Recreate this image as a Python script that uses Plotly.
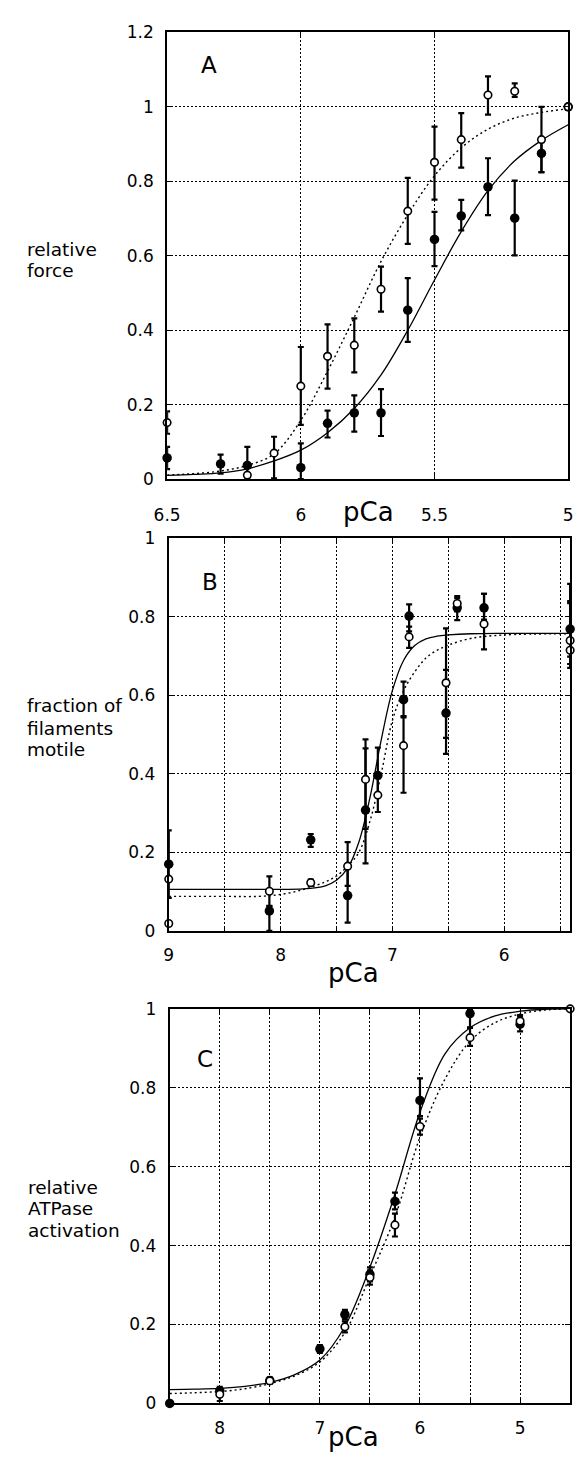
import plotly.graph_objects as go

W, H = 579, 1463
FONT = "DejaVu Sans"

# ---------------- Panel A: relative force ----------------
a_open_pca = [6.5, 6.2, 6.1, 6.0, 5.9, 5.8, 5.7, 5.6, 5.5, 5.4, 5.3, 5.2, 5.1, 5.0]
a_open_val = [0.152, 0.011, 0.07, 0.25, 0.33, 0.36, 0.51, 0.72, 0.851, 0.912, 1.032, 1.042, 0.912, 1.0]
a_open_errp = [0.03, 0.0, 0.044, 0.105, 0.086, 0.072, 0.061, 0.089, 0.096, 0.071, 0.05, 0.021, 0.088, 0.0]
a_open_errm = [0.03, 0.0, 0.068, 0.104, 0.087, 0.073, 0.06, 0.088, 0.1, 0.075, 0.053, 0.015, 0.088, 0.0]

a_fill_pca = [6.5, 6.3, 6.2, 6.0, 5.9, 5.8, 5.7, 5.6, 5.5, 5.4, 5.3, 5.2, 5.1, 5.0]
a_fill_val = [0.057, 0.041, 0.037, 0.031, 0.15, 0.178, 0.178, 0.454, 0.644, 0.707, 0.785, 0.701, 0.875, 1.0]
a_fill_errp = [0.03, 0.025, 0.05, 0.065, 0.034, 0.047, 0.064, 0.086, 0.074, 0.043, 0.077, 0.101, 0.03, 0.0]
a_fill_errm = [0.03, 0.026, 0.037, 0.031, 0.038, 0.05, 0.062, 0.085, 0.072, 0.039, 0.076, 0.1, 0.05, 0.0]

a_fit_pca = [6.5, 6.4, 6.3, 6.2, 6.1, 6.0, 5.9, 5.8, 5.7, 5.6, 5.5, 5.4, 5.3, 5.2, 5.1, 5.0]
a_fit_solid = [0.010, 0.013, 0.017, 0.028, 0.049, 0.078, 0.125, 0.19, 0.28, 0.40, 0.535, 0.665, 0.775, 0.855, 0.91, 0.952]
a_fit_dotted = [0.011, 0.015, 0.022, 0.037, 0.068, 0.158, 0.29, 0.435, 0.585, 0.71, 0.815, 0.89, 0.94, 0.97, 0.985, 0.995]

a_xticks = [6.5, 6.0, 5.5, 5.0]
a_xtext = ["6.5", "6", "5.5", "5"]
a_yticks = [0, 0.2, 0.4, 0.6, 0.8, 1.0, 1.2]
a_ytext = ["0", "0.2", "0.4", "0.6", "0.8", "1", "1.2"]

# ---------------- Panel B: fraction of filaments motile ----------------
b_fill_pca = [9.0, 8.1, 7.73, 7.4, 7.24, 7.13, 6.9, 6.85, 6.52, 6.42, 6.18, 5.41]
b_fill_val = [0.17, 0.051, 0.232, 0.09, 0.308, 0.396, 0.589, 0.802, 0.555, 0.823, 0.823, 0.769]
b_fill_errp = [0.086, 0.013, 0.015, 0.08, 0.157, 0.071, 0.046, 0.03, 0.11, 0.025, 0.036, 0.115]
b_fill_errm = [0.086, 0.051, 0.018, 0.069, 0.136, 0.05, 0.045, 0.039, 0.104, 0.031, 0.03, 0.07]

b_open_pca = [9.0, 9.0, 8.1, 7.73, 7.4, 7.24, 7.13, 6.9, 6.85, 6.52, 6.42, 6.18, 5.41, 5.41]
b_open_val = [0.132, 0.019, 0.101, 0.123, 0.165, 0.386, 0.346, 0.472, 0.749, 0.632, 0.834, 0.782, 0.74, 0.715]
b_open_errp = [0.0, 0.0, 0.038, 0.008, 0.061, 0.102, 0.05, 0.075, 0.026, 0.139, 0.019, 0.077, 0.1, 0.12]
b_open_errm = [0.0, 0.0, 0.038, 0.008, 0.05, 0.126, 0.043, 0.12, 0.028, 0.14, 0.02, 0.065, 0.06, 0.045]

b_fit_pca = [9.0, 8.5, 8.2, 8.0, 7.8, 7.6, 7.5, 7.4, 7.3, 7.2, 7.1, 7.0, 6.9, 6.8, 6.7, 6.6, 6.5, 6.3, 6.0, 5.41]
b_fit_solid = [0.106, 0.106, 0.106, 0.106, 0.107, 0.115, 0.129, 0.16, 0.226, 0.34, 0.486, 0.612, 0.689, 0.727, 0.744, 0.751, 0.754, 0.757, 0.758, 0.758]
b_fit_dotted = [0.088, 0.088, 0.088, 0.093, 0.105, 0.125, 0.14, 0.165, 0.2, 0.28, 0.40, 0.536, 0.612, 0.66, 0.695, 0.715, 0.728, 0.745, 0.754, 0.757]

b_xticks = [9.0, 8.5, 8.0, 7.5, 7.0, 6.5, 6.0, 5.5]
b_xtext = ["9", "", "8", "", "7", "", "6", ""]
b_yticks = [0, 0.2, 0.4, 0.6, 0.8, 1.0]
b_ytext = ["0", "0.2", "0.4", "0.6", "0.8", "1"]

# ---------------- Panel C: relative ATPase activation ----------------
c_fill_pca = [8.5, 8.0, 7.5, 7.0, 6.75, 6.5, 6.25, 6.0, 5.5, 5.0]
c_fill_val = [0.0, 0.032, 0.058, 0.138, 0.225, 0.327, 0.512, 0.768, 0.988, 0.961]
c_fill_errp = [0.0, 0.01, 0.008, 0.01, 0.012, 0.018, 0.022, 0.056, 0.012, 0.02]
c_fill_errm = [0.0, 0.01, 0.008, 0.01, 0.012, 0.018, 0.02, 0.04, 0.035, 0.018]

c_open_pca = [8.0, 7.5, 6.75, 6.5, 6.25, 6.0, 5.5, 5.0, 4.5]
c_open_val = [0.023, 0.057, 0.194, 0.319, 0.452, 0.702, 0.927, 0.969, 1.0]
c_open_errp = [0.012, 0.006, 0.014, 0.018, 0.029, 0.02, 0.025, 0.015, 0.0]
c_open_errm = [0.017, 0.006, 0.014, 0.018, 0.029, 0.021, 0.021, 0.015, 0.0]

c_fit_pca = [8.5, 8.25, 8.0, 7.75, 7.5, 7.25, 7.0, 6.75, 6.5, 6.25, 6.0, 5.75, 5.5, 5.25, 5.0, 4.75, 4.5]
c_fit_solid = [0.035, 0.036, 0.038, 0.043, 0.053, 0.073, 0.11, 0.195, 0.345, 0.53, 0.738, 0.886, 0.952, 0.982, 0.994, 0.999, 1.0]
c_fit_dotted = [0.025, 0.027, 0.03, 0.037, 0.05, 0.07, 0.105, 0.18, 0.322, 0.472, 0.675, 0.822, 0.918, 0.965, 0.987, 0.997, 1.0]

c_xticks = [8.0, 7.5, 7.0, 6.5, 6.0, 5.5, 5.0]
c_xtext = ["8", "", "7", "", "6", "", "5"]
c_yticks = [0, 0.2, 0.4, 0.6, 0.8, 1.0]
c_ytext = ["0", "0.2", "0.4", "0.6", "0.8", "1"]


def fx(p):
    return p / W


def fy(p):
    return 1 - p / H


fig = go.Figure()

panels = [
    ("x", "y", a_fit_pca, a_fit_solid, a_fit_dotted,
     a_fill_pca, a_fill_val, a_fill_errp, a_fill_errm,
     a_open_pca, a_open_val, a_open_errp, a_open_errm),
    ("x2", "y2", b_fit_pca, b_fit_solid, b_fit_dotted,
     b_fill_pca, b_fill_val, b_fill_errp, b_fill_errm,
     b_open_pca, b_open_val, b_open_errp, b_open_errm),
    ("x3", "y3", c_fit_pca, c_fit_solid, c_fit_dotted,
     c_fill_pca, c_fill_val, c_fill_errp, c_fill_errm,
     c_open_pca, c_open_val, c_open_errp, c_open_errm),
]

for (xa, ya, fp, fs, fd, fpc, fv, fep, fem, opc, ov, oep, oem) in panels:
    fig.add_trace(go.Scatter(x=fp, y=fs, xaxis=xa, yaxis=ya, mode="lines",
                             line=dict(color="black", width=1.3, shape="spline", smoothing=1.0),
                             hoverinfo="skip"))
    fig.add_trace(go.Scatter(x=fp, y=fd, xaxis=xa, yaxis=ya, mode="lines",
                             line=dict(color="black", width=1.4, dash="2px,3px", shape="spline", smoothing=1.0),
                             hoverinfo="skip"))
    fig.add_trace(go.Scatter(x=fpc, y=fv, xaxis=xa, yaxis=ya, mode="markers",
                             marker=dict(symbol="circle", size=9.5, color="black"),
                             error_y=dict(type="data", symmetric=False, array=fep, arrayminus=fem,
                                          color="black", thickness=2.2, width=3),
                             cliponaxis=False))
    fig.add_trace(go.Scatter(x=opc, y=ov, xaxis=xa, yaxis=ya, mode="markers",
                             marker=dict(symbol="circle", size=7.5, color="white",
                                         line=dict(color="black", width=1.6)),
                             error_y=dict(type="data", symmetric=False, array=oep, arrayminus=oem,
                                          color="black", thickness=2.2, width=3),
                             cliponaxis=False))

tickfont = dict(family=FONT, size=17, color="black")


def axis_common():
    return dict(showline=True, linecolor="black", linewidth=2, mirror="ticks",
                ticks="inside", ticklen=5, tickwidth=1.3, tickcolor="black",
                showgrid=True, gridcolor="black", gridwidth=1, griddash="2px,2px",
                zeroline=False, tickfont=tickfont, tickmode="array", fixedrange=True)


# domains in pixels (left, right) and (top, bottom)
A_dom = ((158.3, 573.0), (22.7, 475.7))
B_dom = ((160.0, 575.0), (535.7, 933.7))
C_dom = ((161.0, 575.0), (1012.7, 1412.7))

layout = dict(
    width=W, height=H, autosize=False,
    margin=dict(l=0, r=0, t=0, b=0, pad=0),
    paper_bgcolor="white", plot_bgcolor="white",
    showlegend=False,
)

for name, yname, anchor_x, anchor_y, dom, xr, yr, xt, xtt, yt, ytt, xstand in [
    ("xaxis", "yaxis", "y", "x", A_dom, [6.5, 5.0], [0, 1.2], a_xticks, a_xtext, a_yticks, a_ytext, 19),
    ("xaxis2", "yaxis2", "y2", "x2", B_dom, [9.0, 5.41], [0, 1.0], b_xticks, b_xtext, b_yticks, b_ytext, 8),
    ("xaxis3", "yaxis3", "y3", "x3", C_dom, [8.5, 4.5], [0, 1.0], c_xticks, c_xtext, c_yticks, c_ytext, 8),
]:
    (xl, xrgt), (yt_px, yb_px) = dom
    xa = axis_common()
    xa.update(domain=[fx(xl), fx(xrgt)], range=xr, anchor=anchor_x,
              tickvals=xt, ticktext=xtt, ticklabelstandoff=xstand)
    ya = axis_common()
    ya.update(domain=[fy(yb_px), fy(yt_px)], range=yr, anchor=anchor_y,
              tickvals=yt, ticktext=ytt, ticklabelstandoff=8)
    layout[name] = xa
    layout[yname] = ya

annotations = []


def ann(text, x, y, size, xanchor="center"):
    annotations.append(dict(text=text, x=fx(x), y=fy(y), xref="paper", yref="paper",
                            showarrow=False, xanchor=xanchor, yanchor="middle",
                            font=dict(family=FONT, size=size, color="black")))


# panel letters
ann("A", 202, 56, 23)
ann("B", 203, 580, 23)
ann("C", 197, 1064, 23)

# pCa axis titles
ann("pCa", 367, 509, 26)
ann("pCa", 351, 976, 26)
ann("pCa", 351, 1447, 26)

# side labels
for txt, yy in [("relative", 243), ("force", 264)]:
    ann(txt, 11, yy, 18.5, xanchor="left")
for txt, yy in [("fraction of", 705), ("filaments", 728), ("motile", 750)]:
    ann(txt, 11, yy, 18.5, xanchor="left")
for txt, yy in [("relative", 1194), ("ATPase", 1215), ("activation", 1237)]:
    ann(txt, 12, yy, 18.5, xanchor="left")

layout["annotations"] = annotations
fig.update_layout(**layout)

fig.write_html("out.html")
